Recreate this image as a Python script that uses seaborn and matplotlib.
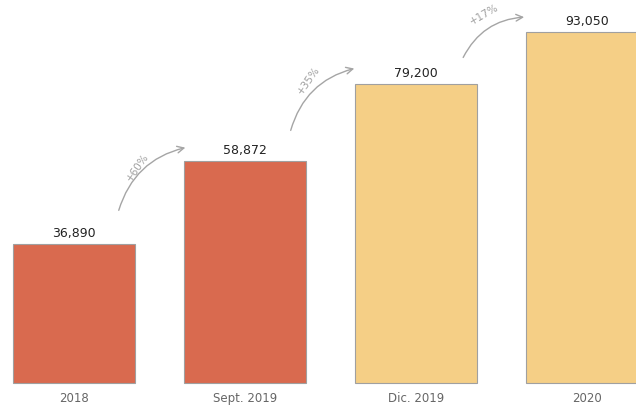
import matplotlib
matplotlib.use("Agg")
import matplotlib.pyplot as plt
import seaborn as sns
import pandas as pd

# data
periods = ["2018", "Sept. 2019", "Dic. 2019", "2020"]
values = [36890, 58872, 79200, 93050]
bar_colors = ["#d96a4f", "#d96a4f", "#f5cf86", "#f5cf86"]
growth = ["+60%", "+35%", "+17%"]

df = pd.DataFrame({"period": periods, "value": values})

sns.set_theme(style="white")
plt.rcParams["font.family"] = ["DejaVu Sans"]

fig = plt.figure(figsize=(6.36, 4.08), dpi=100)
ax = fig.add_axes([0, 0, 1, 1])

sns.barplot(data=df, x="period", y="value", hue="period", palette=bar_colors,
            saturation=1, width=0.71, edgecolor="#a0a0a0", linewidth=0.8,
            legend=False, ax=ax)

ax.set_xlim(-0.433, 3.287)
ax.set_ylim(-6630, 101600)
ax.axis("off")

# value labels on top of bars
for i, v in enumerate(values):
    ax.text(i, v + 1100, f"{v:,}", ha="center", va="bottom",
            fontsize=9, color="#222222")

# category labels under bars
for i, p in enumerate(periods):
    ax.text(i, -2400, p, ha="center", va="top", fontsize=8.5, color="#666666")

# curved growth arrows between bars
arrows = [((0.257, 45100), (0.667, 62600)),
          ((1.263, 66300), (1.655, 83600)),
          ((2.269, 85700), (2.649, 97100))]
label_pos = [(0.37, 57300, 55), (1.37, 80300, 55), (2.40, 97700, 30)]

for (start, end), (tx, ty, rot), g in zip(arrows, label_pos, growth):
    ax.annotate("", xy=end, xytext=start,
                arrowprops=dict(arrowstyle="->", color="#a5a5a5", lw=1.0,
                                connectionstyle="arc3,rad=-0.3"))
    ax.text(tx, ty, g, rotation=rot, ha="center", va="center",
            fontsize=7.5, color="#a0a0a0")

fig.savefig("out.png", dpi=100)
